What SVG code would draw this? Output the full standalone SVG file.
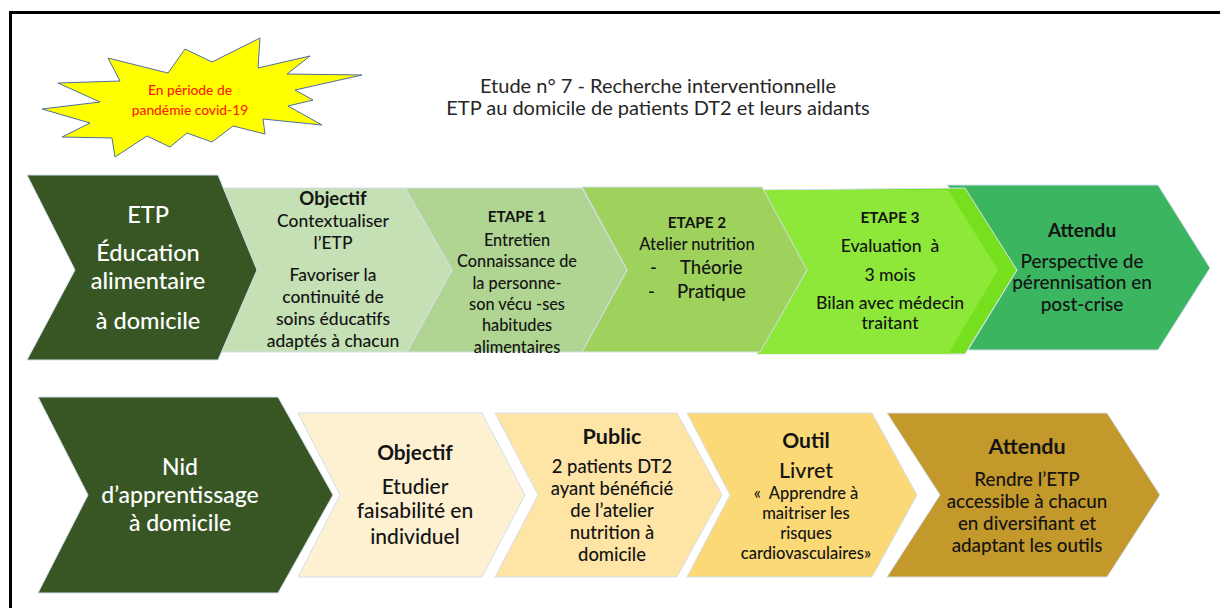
<svg xmlns="http://www.w3.org/2000/svg" width="1220" height="608" viewBox="0 0 1220 608">
<style>
text{font-family:Lato,"Open Sans","Liberation Sans",sans-serif;text-anchor:middle;fill:#141414;font-weight:500}
.w{fill:#ffffff}
.b{font-weight:700}
.ch{stroke:#d5deee;stroke-width:1}
.title{fill:#262626;font-size:20px;font-weight:400}
.star{fill:#ff1a00;font-size:13.8px}
</style>
<rect x="10.5" y="12.5" width="1230" height="620" fill="#ffffff" stroke="#000000" stroke-width="3"/>
<g id="star">
<polygon points="42,109 100,102 58,83 120,81 108,58 168,73 185,49 212,62 260,38 258,68 310,56 287,74 362,75 295,90 313,100 288,106 322,125 263,119 265,134 233,126 212,142 187,133 170,147 147,136 115,157 112,138 62,137 90,123" fill="#ffff00" stroke="#4f6ea0" stroke-width="1"/>
<text class="star" x="190" y="95">En période de</text>
<text class="star" x="190" y="115">pandémie covid-19</text>
</g>
<g id="title">
<text class="title" x="658" y="93">Etude n° 7 - Recherche interventionnelle</text>
<text class="title" x="658" y="115">ETP au domicile de patients DT2 et leurs aidants</text>
</g>
<g id="r1-attendu">
<polygon class="ch" points="947,185 1158,185 1210,268 1158,350 968,350 1017,270" fill="#3bb55f"/>
<text class="b" x="1082" y="237" font-size="19">Attendu</text>
<text x="1082" y="268" font-size="19">Perspective de</text>
<text x="1082" y="289" font-size="19">pérennisation en</text>
<text x="1082" y="311" font-size="19">post-crise</text>
</g>
<g id="r1-etape3">
<polygon class="ch" points="757,190 965,188 1017,270 965,354 757,354 807,270" fill="#76e01e"/>
<polygon points="757,190 948,190 998,270 948,354 757,354 807,270" fill="#8ee83a"/>
<text class="b" x="890" y="223" font-size="15.5">ETAPE 3</text>
<text x="890" y="252" font-size="17.6" xml:space="preserve">Evaluation  à</text>
<text x="890" y="281" font-size="17.6">3 mois</text>
<text x="890" y="309" font-size="17.6">Bilan avec médecin</text>
<text x="890" y="329" font-size="17.6">traitant</text>
</g>
<g id="r1-etape2">
<polygon class="ch" points="582,187 762,187 807,270 760,352 582,352 627,270" fill="#9fd25c"/>
<text class="b" x="697" y="228" font-size="15.3">ETAPE 2</text>
<text x="697" y="250" font-size="16.5">Atelier nutrition</text>
<text font-size="18.5" style="text-anchor:start"><tspan x="650" y="274">-</tspan><tspan x="680" y="274">Théorie</tspan></text>
<text font-size="18.5" style="text-anchor:start"><tspan x="648" y="298">-</tspan><tspan x="677" y="298">Pratique</tspan></text>
</g>
<g id="r1-etape1">
<polygon class="ch" points="405,188 582,188 627,270 582,352 407,352 452,270" fill="#b0d592"/>
<text class="b" x="517" y="222" font-size="15.3">ETAPE 1</text>
<text x="517" y="246" font-size="16.3">Entretien</text>
<text x="517" y="267" font-size="16.3">Connaissance de</text>
<text x="517" y="289" font-size="16.3">la personne-</text>
<text x="517" y="310" font-size="16.3">son vécu -ses</text>
<text x="517" y="331" font-size="16.3">habitudes</text>
<text x="517" y="353" font-size="16.3">alimentaires</text>
</g>
<g id="r1-objectif">
<polygon class="ch" points="210,188 405,188 452,270 407,352 210,352 257,270" fill="#c5e0b4"/>
<text class="b" x="333" y="205" font-size="18.5">Objectif</text>
<text x="333" y="227" font-size="17.5">Contextualiser</text>
<text x="333" y="249" font-size="17.5">l’ETP</text>
<text x="333" y="281" font-size="17.5">Favoriser la</text>
<text x="333" y="303" font-size="17.5">continuité de</text>
<text x="333" y="325" font-size="17.5">soins éducatifs</text>
<text x="333" y="347" font-size="17.5">adaptés à chacun</text>
</g>
<g id="r1-etp">
<polygon class="ch" points="27,175 218,175 257,270 218,360 27,360 75,270" fill="#375623"/>
<text class="w" x="148" y="223" font-size="23.5">ETP</text>
<text class="w" x="148" y="261" font-size="23.5">Éducation</text>
<text class="w" x="148" y="289" font-size="23.5">alimentaire</text>
<text class="w" x="148" y="329" font-size="23.5">à domicile</text>
</g>
<g id="r2-attendu">
<polygon class="ch" points="887,413 1107,413 1160,495 1107,577 887,577 940,495" fill="#c4992b"/>
<text class="b" x="1027" y="454" font-size="21.5">Attendu</text>
<text x="1027" y="486" font-size="18.8">Rendre l’ETP</text>
<text x="1027" y="508" font-size="18.8">accessible à chacun</text>
<text x="1027" y="530" font-size="18.8">en diversifiant et</text>
<text x="1027" y="552" font-size="18.8">adaptant les outils</text>
</g>
<g id="r2-outil">
<polygon class="ch" points="687,413 872,413 917,495 872,577 687,577 730,495" fill="#fbd977"/>
<text class="b" x="806" y="448" font-size="21">Outil</text>
<text x="806" y="478" font-size="21.5">Livret</text>
<text x="806" y="499" font-size="16.5" xml:space="preserve">«  Apprendre à</text>
<text x="806" y="519" font-size="16.5">maitriser les</text>
<text x="806" y="539" font-size="16.5">risques</text>
<text x="806" y="559" font-size="16.5">cardiovasculaires»</text>
</g>
<g id="r2-public">
<polygon class="ch" points="495,413 677,413 722,495 677,577 495,577 538,495" fill="#fee5a6"/>
<text class="b" x="612" y="444" font-size="21.5">Public</text>
<text x="612" y="473" font-size="18.4">2 patients DT2</text>
<text x="612" y="495" font-size="18.4">ayant bénéficié</text>
<text x="612" y="517" font-size="18.4">de l’atelier</text>
<text x="612" y="539" font-size="18.4">nutrition à</text>
<text x="612" y="561" font-size="18.4">domicile</text>
</g>
<g id="r2-objectif">
<polygon class="ch" points="298,413 482,413 525,495 482,577 298,577 340,495" fill="#fdf1d2"/>
<text class="b" x="415" y="460" font-size="20.8">Objectif</text>
<text x="415" y="494" font-size="21">Etudier</text>
<text x="415" y="518" font-size="21">faisabilité en</text>
<text x="415" y="544" font-size="21">individuel</text>
</g>
<g id="r2-nid">
<polygon class="ch" points="38,397 278,397 333,495 278,593 38,593 88,495" fill="#375623"/>
<text class="w" x="180" y="475" font-size="23">Nid</text>
<text class="w" x="180" y="503" font-size="23">d’apprentissage</text>
<text class="w" x="180" y="531" font-size="23">à domicile</text>
</g>
<g id="connectors"></g>
</svg>
